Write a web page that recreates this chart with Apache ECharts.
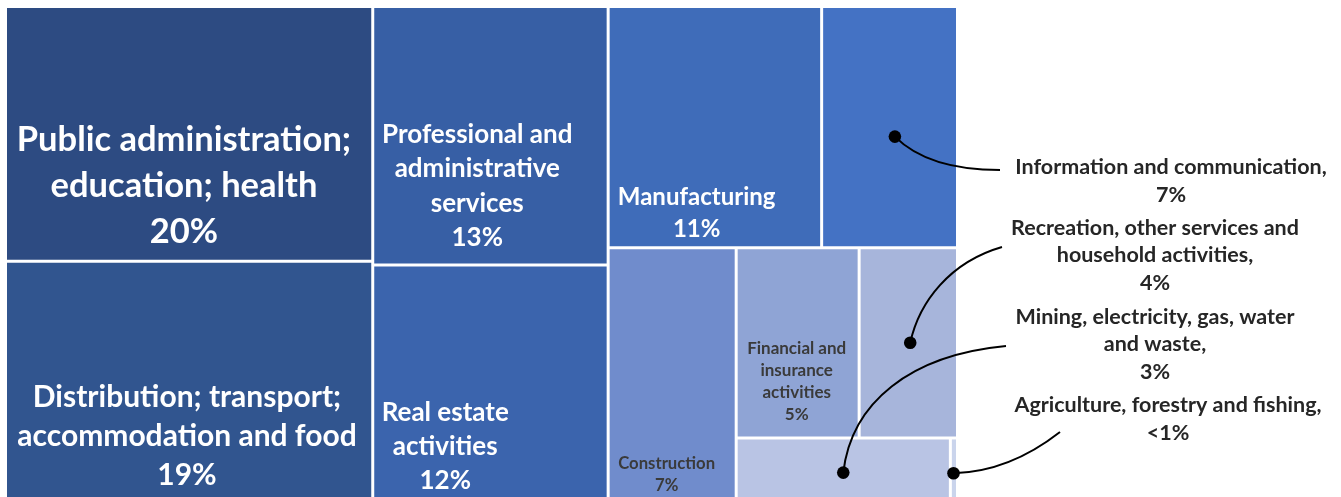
<!DOCTYPE html>
<html>
<head>
<meta charset="utf-8">
<title>Output by industry</title>
<script src="https://cdn.jsdelivr.net/npm/echarts@6/dist/echarts.min.js"></script>
<style>
  html, body { margin: 0; padding: 0; background: #ffffff; overflow: hidden; }
  #chart { width: 1341px; height: 497px; }
</style>
</head>
<body>
<div id="chart"></div>
<script>
// Sector names, wrapped the way they are printed
const sectors = [
  'Public administration;\neducation; health',
  'Distribution; transport;\naccommodation and food',
  'Professional and\nadministrative\nservices',
  'Real estate\nactivities',
  'Manufacturing',
  'Information and communication',
  'Construction',
  'Financial and\ninsurance\nactivities',
  'Recreation, other services and\nhousehold activities',
  'Mining, electricity, gas, water\nand waste',
  'Agriculture, forestry and fishing'
];

// Share of the total, per cent
const shares = [20, 19, 13, 12, 11, 7, 7, 5, 4, 3, 0.1];

// Printed share labels
const shareLabels = ['20%', '19%', '13%', '12%', '11%', '7%', '7%', '5%', '4%', '3%', '<1%'];

// Tile fill colours, darkest for the largest sectors
const tileColors = [
  '#2D4B82', '#31558F', '#375FA5', '#3B64AD', '#3F6CB9', '#4472C4',
  '#708CCC', '#8FA4D5', '#A7B5DB', '#B9C4E4', '#CAD4EC'
];

// Nesting of sectors (by index): three columns, the last split into blocks
const grouping = [[0, 1], [2, 3], [[4, 5], [6, [[7, 8], [9, 10]]]]];

// Labels drawn inside tiles: font size, line height, anchor [centre x, top y] within the tile
const insideLabels = {
  0: { size: 34.5, lineHeight: 46, at: [177, 109], color: '#ffffff' },
  1: { size: 30, lineHeight: 39, at: [180, 115], color: '#ffffff' },
  2: { size: 26, lineHeight: 34.5, at: [103, 109], color: '#ffffff' },
  3: { size: 26, lineHeight: 34, at: [71, 129], color: '#ffffff' },
  4: { size: 24, lineHeight: 32, at: [87, 173], color: '#ffffff' },
  6: { size: 16.7, lineHeight: 22, at: [57, 203], color: '#3a3a3a' },
  7: { size: 17, lineHeight: 22, at: [59, 88], color: '#3a3a3a' }
};

// Callouts for the small tiles: dot at a fraction of the tile, curve to the text block
const callouts = [
  { idx: 5,  anchor: [0.54, 0.54],  end: [1000, 170], c1: [22, 22],  c2: [-48, 0],  text: [1171, 153.5] },
  { idx: 8,  anchor: [0.52, 0.5],   end: [1002, 247], c1: [9, -41],  c2: [-52, 15], text: [1155, 214] },
  { idx: 9,  anchor: [0.5, 0.53],   end: [1006, 346], c1: [8, -70],  c2: [-96, 9],  text: [1155, 303] },
  { idx: 10, anchor: [0.4, 0.54],   end: [1060, 432], c1: [40, -1],  c2: [-32, 25], text: [1168, 391.5] }
];

const FONT = 'Lato, "Open Sans", sans-serif';
const BOX = { left: 7, top: 8, width: 949, height: 494 };

function plainName(i) { return sectors[i].replace(/\n/g, ' '); }

function leaf(i) {
  const cfg = insideLabels[i];
  const text = sectors[i] + '\n' + shareLabels[i];
  return {
    name: plainName(i),
    value: shares[i],
    itemStyle: { color: tileColors[i] },
    label: cfg ? {
      show: true,
      position: cfg.at,
      align: 'center',
      verticalAlign: 'top',
      fontFamily: FONT,
      fontWeight: 'bold',
      fontSize: cfg.size,
      lineHeight: cfg.lineHeight,
      color: cfg.color,
      padding: 0,
      overflow: 'none',
      formatter: function () { return text; }
    } : { show: false }
  };
}

function build(node) {
  if (typeof node === 'number') return leaf(node);
  return { name: '', children: node.map(build) };
}

const chart = echarts.init(document.getElementById('chart'), null, { renderer: 'canvas' });

chart.setOption({
  animation: false,
  series: [{
    type: 'treemap',
    left: BOX.left, top: BOX.top, width: BOX.width, height: BOX.height,
    squareRatio: 1,
    sort: false,
    roam: false,
    nodeClick: false,
    silent: true,
    breadcrumb: { show: false },
    itemStyle: { borderWidth: 0, gapWidth: 3, borderColor: '#ffffff' },
    upperLabel: { show: false },
    label: { show: false },
    data: build(grouping).children
  }]
});

// Absolute rectangle of a sector tile from the treemap layout
function tileRect(name) {
  const tree = chart.getModel().getSeriesByIndex(0).getData().tree;
  let found = null;
  tree.root.eachNode(function (n) { if (n.name === name && !n.children.length) found = n; });
  const l = found.getLayout();
  let x = l.x, y = l.y;
  let p = found.parentNode;
  while (p) {
    const pl = p.getLayout();
    if (pl) { x += pl.x || 0; y += pl.y || 0; }
    p = p.parentNode;
  }
  return { x: x + BOX.left, y: y + BOX.top, width: l.width, height: l.height };
}

const graphics = [];
callouts.forEach(function (c) {
  const r = tileRect(plainName(c.idx));
  const sx = r.x + r.width * c.anchor[0];
  const sy = r.y + r.height * c.anchor[1];
  graphics.push({
    type: 'bezierCurve', z: 100, silent: true,
    shape: {
      x1: sx, y1: sy, x2: c.end[0], y2: c.end[1],
      cpx1: sx + c.c1[0], cpy1: sy + c.c1[1],
      cpx2: c.end[0] + c.c2[0], cpy2: c.end[1] + c.c2[1]
    },
    style: { stroke: '#000000', lineWidth: 2, fill: 'none' }
  });
  graphics.push({
    type: 'circle', z: 101, silent: true,
    shape: { cx: sx, cy: sy, r: 6.3 },
    style: { fill: '#000000' }
  });
  graphics.push({
    type: 'text', z: 100, silent: true,
    x: c.text[0], y: c.text[1],
    style: {
      text: sectors[c.idx] + ',\n' + shareLabels[c.idx],
      align: 'center', verticalAlign: 'top',
      fontFamily: FONT, fontWeight: 'bold', fontSize: 21.5, lineHeight: 27.5,
      fill: '#262626'
    }
  });
});

chart.setOption({ graphic: graphics });
</script>
</body>
</html>
